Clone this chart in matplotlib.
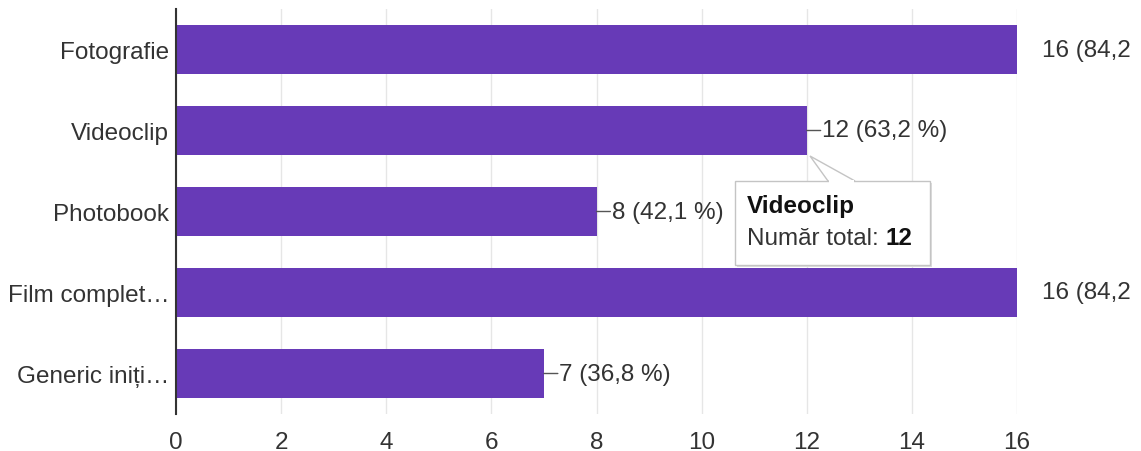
import matplotlib.pyplot as plt
from matplotlib.patches import Polygon, Rectangle

plt.rcParams['font.family'] = ['Liberation Sans', 'DejaVu Sans']

# answers and counts (19 respondents)
categories = ['Fotografie', 'Videoclip', 'Photobook', 'Film complet…', 'Generic iniți…']
counts = [16, 12, 8, 16, 7]
percents = ['84,2', '63,2', '42,1', '84,2', '36,8']
xticks = [0, 2, 4, 6, 8, 10, 12, 14, 16]

purple = '#673ab7'
text_col = '#333333'
fs = 17.5

fig = plt.figure(figsize=(11.41, 4.52), dpi=100)
ax = fig.add_axes([176 / 1141, 37 / 452, (1017 - 176) / 1141, (442 - 37) / 452])

y = list(range(len(categories)))
ax.barh(y, counts, height=0.6, color=purple, zorder=2)
ax.set_ylim(len(categories) - 0.5, -0.5)
ax.set_xlim(0, 16)

ax.set_xticks(xticks)
ax.set_yticks(y)
ax.set_yticklabels(categories)
ax.tick_params(axis='y', length=0, pad=5, labelsize=fs, labelcolor=text_col)
ax.tick_params(axis='x', length=0, pad=12, labelsize=fs, labelcolor=text_col)
ax.grid(axis='x', color='#e6e6e6', linewidth=1, zorder=0)
for s in ['top', 'right', 'bottom']:
    ax.spines[s].set_visible(False)
ax.spines['left'].set_color('#333333')
ax.spines['left'].set_linewidth(1.5)
ax.spines['left'].set_zorder(3)

# value labels; full-length bars push theirs past the plot edge
for yi, c, p in zip(y, counts, percents):
    if c < xticks[-1]:
        ax.annotate('', xy=(c, yi), xytext=(10, 0), textcoords='offset points',
                    arrowprops=dict(arrowstyle='-', color='#555555', lw=1,
                                    shrinkA=0, shrinkB=0))
        ax.annotate(f'{c} ({p} %)', xy=(c, yi), xytext=(11, 0),
                    textcoords='offset points', va='center', ha='left',
                    fontsize=fs, color=text_col)
    else:
        ax.annotate(f'{c} ({p}', xy=(c, yi), xytext=(18, 0),
                    textcoords='offset points', va='center', ha='left',
                    fontsize=fs, color=text_col, annotation_clip=False)

# hover tooltip for Videoclip
sel = 1
W, H = 1141, 452
px = lambda v: v / W
py = lambda v: 1 - v / H
bx0, by0, bx1, by1 = 735, 182, 930, 266
fig.patches.append(Rectangle((px(bx0 + 2), py(by1 + 2)), px(bx1 - bx0), (by1 - by0) / H,
                             transform=fig.transFigure, facecolor='#dddddd',
                             edgecolor='none', zorder=5))
fig.patches.append(Rectangle((px(bx0), py(by1)), px(bx1 - bx0), (by1 - by0) / H,
                             transform=fig.transFigure, facecolor='white',
                             edgecolor='#c4c4c4', linewidth=1, zorder=6))
fig.patches.append(Polygon([(px(810), py(157)), (px(828), py(by0)), (px(855), py(by0))],
                           closed=True, transform=fig.transFigure, facecolor='white',
                           edgecolor='#c4c4c4', linewidth=1, zorder=7))
fig.patches.append(Rectangle((px(829), py(by0 + 1.5)), px(25), 2.5 / H,
                             transform=fig.transFigure, facecolor='white',
                             edgecolor='none', zorder=8))
fig.text(px(747), py(207), categories[sel], fontsize=fs, fontweight='bold',
         color='#111111', va='center', zorder=9)
t = fig.text(px(747), py(239), 'Număr total: ', fontsize=fs, color=text_col,
             va='center', zorder=9)
fig.canvas.draw()
ext = t.get_window_extent()
fig.text(ext.x1 / W, py(239), str(counts[sel]), fontsize=fs, fontweight='bold',
         color='#111111', va='center', zorder=9)

fig.savefig('out.png', dpi=100, facecolor='white')
